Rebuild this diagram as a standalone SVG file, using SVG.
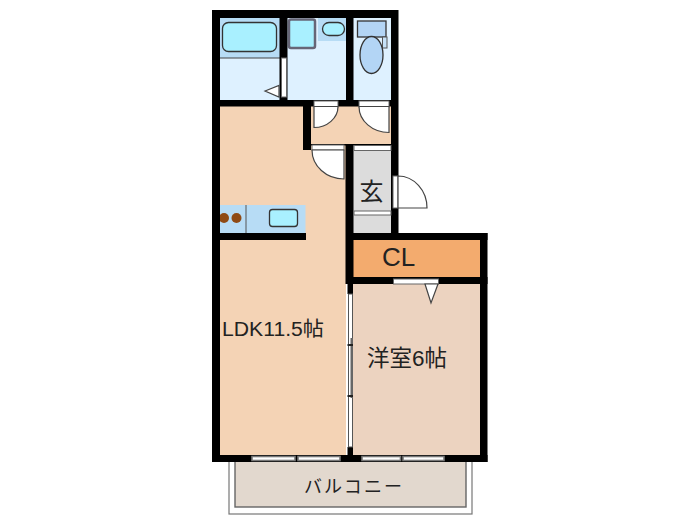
<svg xmlns="http://www.w3.org/2000/svg" width="700" height="525" viewBox="0 0 700 525">
<style>
.wall{fill:#000}
.door{fill:#fff;stroke:#666;stroke-width:1}
.win{fill:#fff;stroke:#777;stroke-width:1.6}
.leaf{fill:#fff;stroke:#444;stroke-width:1.2}
.fix{stroke:#333;stroke-width:1.3}
.label{font-family:"Liberation Sans","Noto Sans CJK JP",sans-serif;fill:#222}
</style>
<rect width="700" height="525" fill="#fff"/>
<g id="balcony">
<rect x="229" y="458" width="243" height="56" fill="#fff" stroke="#777" stroke-width="1.2"/>
<rect x="235" y="458" width="231" height="49" fill="#e2d8ce" stroke="#666" stroke-width="1.4"/>
<text class="label" x="353" y="493" font-size="18" text-anchor="middle" textLength="98">バルコニー</text>
</g>
<g id="ldk">
<rect x="218" y="104" width="128" height="353" fill="#f4d3b5"/>
<text class="label" x="222" y="336" font-size="20" textLength="102" lengthAdjust="spacingAndGlyphs">LDK11.5帖</text>
</g>
<g id="hall"><rect x="309" y="104" width="84" height="42" fill="#f4d3b5"/></g>
<g id="bath">
<rect x="220" y="17" width="60" height="84" fill="#def1ff"/>
<rect x="220" y="17" width="60" height="41" fill="#b7dcf5"/>
<line x1="220" y1="58" x2="280" y2="58" stroke="#444"/>
<rect x="222.500" y="22.500" width="54" height="29" rx="6" fill="#a9f0ff" class="fix"/>
</g>
<g id="washroom">
<rect x="287" y="17" width="59" height="84" fill="#def1ff"/>
<rect x="318" y="17" width="28" height="24" fill="#b7dcf5"/>
<rect x="289" y="19.500" width="26" height="28.500" rx="2" fill="#a9f0ff" stroke="#667" stroke-width="2.500"/>
<rect x="322.500" y="22.500" width="22" height="13" rx="6.500" fill="#a9f0ff" class="fix"/>
</g>
<g id="toilet">
<rect x="353" y="17" width="38" height="84" fill="#def1ff"/>
<rect x="357.500" y="21" width="28.500" height="16" fill="#b3d5f5" class="fix"/>
<rect x="382.500" y="37" width="4.500" height="11" fill="#c6e2f8" stroke="#555"/>
<ellipse cx="371.500" cy="55" rx="11.500" ry="18.500" fill="#b3d5f5" class="fix"/>
</g>
<g id="genkan">
<rect x="353" y="145" width="39" height="90" fill="#dcdcdc"/>
<text class="label" x="371.500" y="200" font-size="24" text-anchor="middle">玄</text>
</g>
<g id="closet">
<rect x="353" y="238" width="128" height="41" fill="#f3ab6e"/>
<text class="label" x="398.500" y="265.500" font-size="26" text-anchor="middle">CL</text>
</g>
<g id="western-room">
<rect x="353" y="282" width="128" height="175" fill="#ecd3c0"/>
<text class="label" x="367" y="366" font-size="22.500">洋室6帖</text>
</g>
<g id="kitchen">
<rect x="220" y="205" width="85.500" height="29" fill="#b7dcf5"/>
<line x1="246" y1="205" x2="246" y2="233" stroke="#555"/>
<circle cx="224" cy="218" r="5" fill="#8f4a14"/>
<circle cx="236.500" cy="218" r="5" fill="#8f4a14"/>
<rect x="269.500" y="209.500" width="28" height="17" rx="3" fill="#a9f0ff" class="fix"/>
</g>
<g id="walls">
<rect class="wall" x="212" y="10" width="186" height="8"/>
<rect class="wall" x="212" y="10" width="8" height="96"/>
<rect class="wall" x="212" y="100" width="186" height="6.500"/>
<rect class="wall" x="212" y="100" width="8" height="362"/>
<rect class="wall" x="279.500" y="17" width="8" height="84"/>
<rect class="wall" x="346" y="17" width="7.500" height="84"/>
<rect class="wall" x="391" y="10" width="7.500" height="230"/>
<rect class="wall" x="303" y="104" width="8" height="46"/>
<rect class="wall" x="303" y="144" width="90" height="1.500"/>
<rect class="wall" x="345.500" y="145" width="8" height="139"/>
<rect class="wall" x="212" y="233" width="94" height="7"/>
<rect class="wall" x="346" y="233" width="141.500" height="7"/>
<rect class="wall" x="480" y="233" width="7.500" height="229"/>
<rect class="wall" x="346" y="277" width="141.500" height="7"/>
<rect class="wall" x="212" y="455" width="275.500" height="7"/>
<rect class="wall" x="347.500" y="284" width="5.500" height="10"/>
<rect class="wall" x="347.500" y="447" width="5.500" height="15"/>
</g>
<g id="connectors">
<rect x="281.500" y="58" width="5" height="39" class="door"/>
<path d="M265 91 L279 85.500 V97 Z" class="leaf"/>
<rect x="314" y="101" width="24" height="6" class="door"/>
<path d="M314 106.500 V127.500 A24 21 0 0 0 338 106.500 Z" class="leaf"/>
<rect x="359" y="101" width="30" height="6" class="door"/>
<path d="M389 106.500 V132.500 A30 26 0 0 1 359 106.500 Z" class="leaf"/>
<rect x="312" y="145" width="32" height="5" class="door"/>
<path d="M312 150 A32 29 0 0 0 344 179 V150 Z" class="leaf"/>
<rect x="354" y="145.500" width="37" height="5" class="door"/>
<rect x="354" y="211" width="37" height="4" class="door"/>
<rect x="393" y="176" width="5" height="32" class="door"/>
<path d="M398 176 A29 32 0 0 1 427 208 H398 Z" class="leaf"/>
<rect x="393.500" y="279" width="45" height="5" class="door"/>
<path d="M425 284 H438 L431 303 Z" class="leaf"/>
<rect x="348.500" y="294" width="4" height="153" fill="#fff" stroke="#555"/>
<rect x="350.500" y="338" width="2.500" height="60" fill="#666"/>
<rect x="347.500" y="344" width="5.500" height="2" fill="#222"/>
<rect x="347.500" y="395" width="5.500" height="2" fill="#222"/>
<rect x="252" y="456.500" width="43" height="4" class="win"/>
<rect x="298" y="456.500" width="42" height="4" class="win"/>
<rect x="362" y="456.500" width="38.500" height="4" class="win"/>
<rect x="403" y="456.500" width="41" height="4" class="win"/>
</g>
</svg>
